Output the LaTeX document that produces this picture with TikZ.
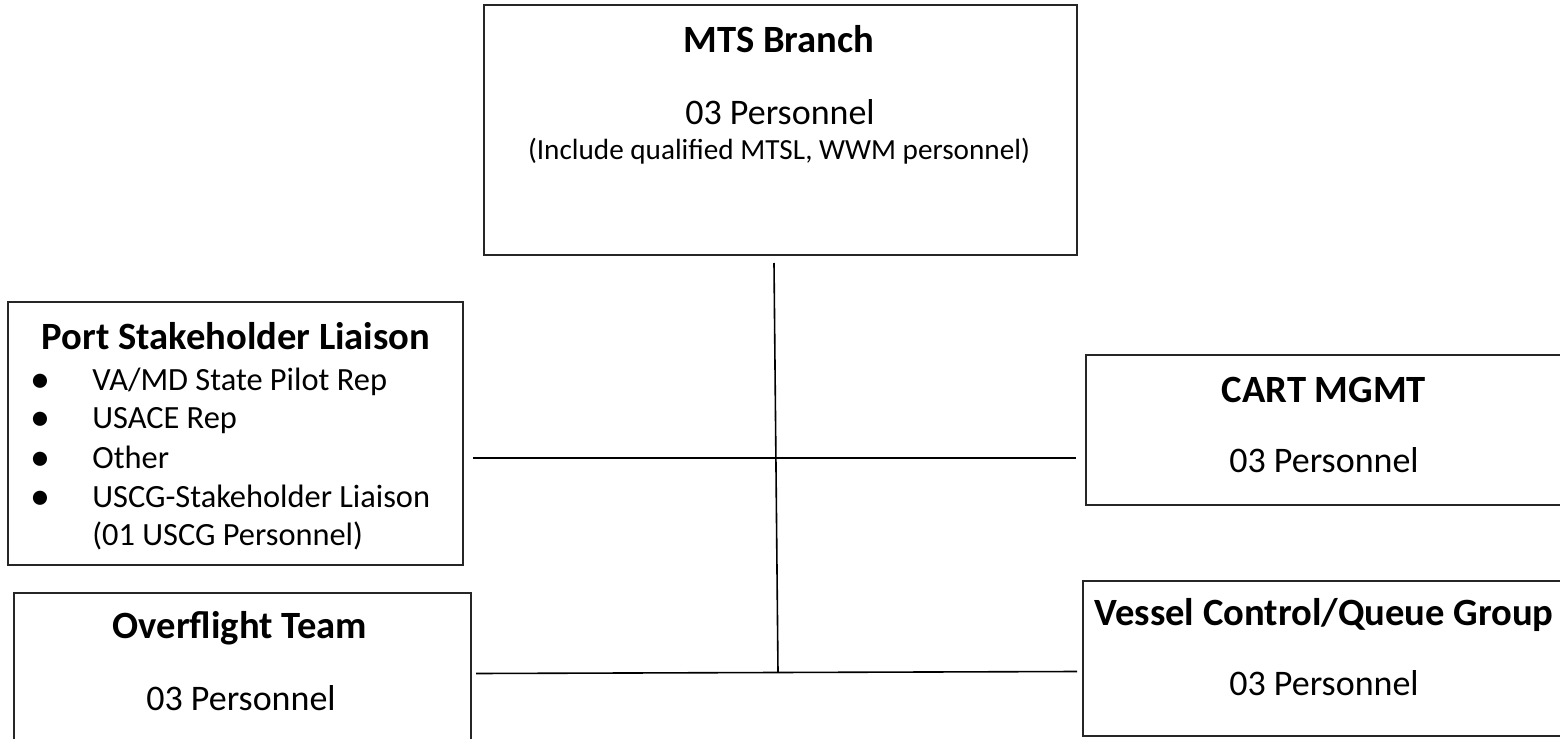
\documentclass[tikz,border=0pt]{standalone}
\usepackage{fontspec}
\setmainfont{Carlito}
\usetikzlibrary{positioning}

\begin{document}
\begin{tikzpicture}[x=0.5pt,y=-0.5pt,inner sep=0pt,
  box/.style={draw=black!85,line width=1pt,rectangle},
  ttl/.style={anchor=base,font=\fontsize{19.3}{23}\selectfont\bfseries},
  txt/.style={anchor=base,font=\fontsize{18}{21}\selectfont},
  note/.style={anchor=base,font=\fontsize{14.6}{17}\selectfont},
  itm/.style={anchor=base west,font=\fontsize{16.2}{19}\selectfont},
  dot/.style={anchor=base,font=\fontsize{20}{24}\selectfont},
  link/.style={line width=0.8pt}]
\useasboundingbox (0,0) rectangle (1560,739);
\clip (0,0) rectangle (1560,739);
\node[box,minimum width=296.5pt,minimum height=125pt] (mts) at (780.5,130) {};
\node[ttl] (mtsT) at (779,52) {MTS Branch};
\node[txt] (mtsP) at (780,124) {03 Personnel};
\node[note] (mtsQ) at (779,159) {(Include qualified MTSL, WWM personnel)};
\node[box,minimum width=227.5pt,minimum height=131.5pt] (psl) at (235.5,433.5) {};
\node[ttl] (pslT) at (236,349) {Port Stakeholder Liaison};
\node[dot] (b1) at (40,392) {\textbullet};
\node[itm] (i1) at (92,390) {VA/MD State Pilot Rep};
\node[dot] (b2) at (40,430) {\textbullet};
\node[itm] (i2) at (92,428) {USACE Rep};
\node[dot] (b3) at (40,470) {\textbullet};
\node[itm] (i3) at (92,468) {Other};
\node[dot] (b4) at (40,509) {\textbullet};
\node[itm] (i4) at (92,507) {USCG-Stakeholder Liaison};
\node[itm] (i5) at (92,545) {(01 USCG Personnel)};
\node[box,minimum width=244.5pt,minimum height=75pt] (cart) at (1330.5,430) {};
\node[ttl] (cartT) at (1324,402) {CART MGMT};
\node[txt] (cartP) at (1324,472) {03 Personnel};
\node[box,minimum width=228.5pt,minimum height=83.5pt] (ovf) at (242.5,676.5) {};
\node[ttl] (ovfT) at (240,638) {Overflight Team};
\node[txt] (ovfP) at (241,710) {03 Personnel};
\node[box,minimum width=246pt,minimum height=77.5pt] (vcq) at (1329,658.5) {};
\node[ttl] (vcqT) at (1324,625) {Vessel Control/Queue Group};
\node[txt] (vcqP) at (1324,695) {03 Personnel};
\coordinate (j1) at (776,458);
\coordinate (j2) at (778,672);
\draw[link] ([shift={(-6.5,7)}]mts.south) -- (j2);
\draw[link] ([shift={(9,0)}]psl.east |- j1) -- ([shift={(-9,0)}]cart.west |- j1);
\draw[link] ([shift={(4,1.5)}]ovf.east |- j2) -- ([shift={(-5,-0.5)}]vcq.west |- j2);
\end{tikzpicture}
\end{document}
